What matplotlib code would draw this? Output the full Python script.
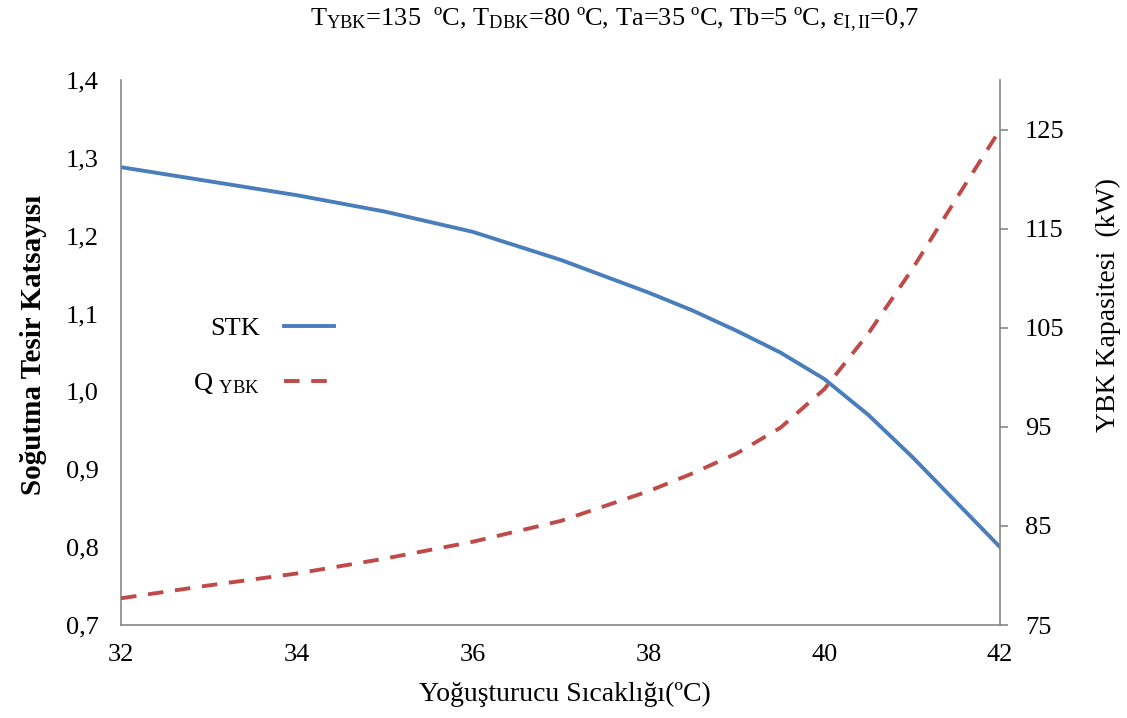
import matplotlib
matplotlib.use("Agg")
import matplotlib.pyplot as plt
import matplotlib.ticker as mticker

plt.rcParams["font.family"] = ["Liberation Serif", "DejaVu Serif"]
plt.rcParams["mathtext.fontset"] = "custom"
plt.rcParams["mathtext.rm"] = "Liberation Serif"
plt.rcParams["mathtext.it"] = "Liberation Serif:italic"
plt.rcParams["mathtext.bf"] = "Liberation Serif:bold"

# data
temp = [32, 33, 34, 35, 36, 37, 38, 38.5, 39, 39.5, 40, 40.5, 41, 41.5, 42]
stk = [1.288, 1.270, 1.252, 1.231, 1.205, 1.169, 1.127, 1.104, 1.078, 1.050,
       1.016, 0.970, 0.916, 0.858, 0.800]
q_ybk = [77.7, 79.0, 80.2, 81.7, 83.4, 85.5, 88.5, 90.3, 92.3, 94.9,
         98.8, 104.4, 110.9, 118.0, 125.0]

left_ticks = [0.7, 0.8, 0.9, 1.0, 1.1, 1.2, 1.3, 1.4]
right_ticks = [75, 85, 95, 105, 115, 125]
x_ticks = [32, 34, 36, 38, 40, 42]

BLUE = "#4a7ebb"
RED = "#be4b48"
GREY = "#868686"

fig = plt.figure(figsize=(11.27, 7.18), dpi=100)
ax = fig.add_axes([0.1074, 0.1295, 0.78, 0.7591])
ax2 = ax.twinx()

l1, = ax.plot(temp, stk, color=BLUE, lw=2.8, label="STK")
l2, = ax2.plot(temp, q_ybk, color=RED, lw=2.8, dashes=(4, 3),
               label=r"Q $_{\mathrm{YBK}}$")

ax.set_xlim(32, 42)
ax.set_ylim(0.7, 1.4)
ax2.set_ylim(75, 130)
ax.set_xticks(x_ticks)
ax.set_yticks(left_ticks)
ax2.set_yticks(right_ticks)
ax.yaxis.set_major_formatter(mticker.FuncFormatter(lambda v, p: f"{v:.1f}".replace(".", ",")))

for a in (ax, ax2):
    a.spines["top"].set_visible(False)
    for s in ("left", "right", "bottom"):
        a.spines[s].set_color(GREY)
        a.spines[s].set_linewidth(1.2)
ax.spines["right"].set_visible(False)
ax2.spines["left"].set_visible(False)
ax2.spines["bottom"].set_visible(False)

ax.tick_params(axis="y", length=0, pad=16, labelsize=19)
ax.tick_params(axis="x", length=0, pad=14, labelsize=19)
ax2.tick_params(axis="y", length=6, width=1.2, color=GREY, pad=12, labelsize=19)

ax.set_xlabel("Yoğuşturucu Sıcaklığı(ºC)", fontsize=20)
ax.xaxis.set_label_coords(0.505, -0.105)
ax.set_ylabel("Soğutma Tesir Katsayısı", fontsize=21, fontweight="bold")
ax.yaxis.set_label_coords(-0.084, 0.514)
ax2.set_ylabel("YBK Kapasitesi  (kW)", fontsize=20)
ax2.yaxis.set_label_coords(1.109, 0.587)

fig.text(0.545, 0.972,
         r"T$_{\mathrm{YBK}}$=135  ºC, T$_{\mathrm{DBK}}$=80 ºC, Ta=35 ºC, Tb=5 ºC, ε$_{\mathrm{I,II}}$=0,7",
         ha="center", va="center", fontsize=19)

leg = ax.legend(handles=[l1, l2], loc="upper left", bbox_to_anchor=(0.055, 0.61),
                frameon=False, markerfirst=False, fontsize=19, handlelength=1.9,
                labelspacing=1.2, handletextpad=0.9)

fig.savefig("out.png", dpi=100)
